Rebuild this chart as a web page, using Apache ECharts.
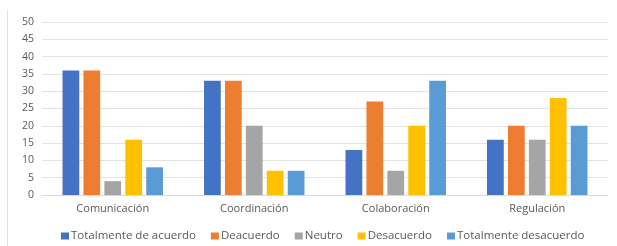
<!DOCTYPE html>
<html><head><meta charset="utf-8">
<script src="https://cdn.jsdelivr.net/npm/echarts@6/dist/echarts.min.js"></script>
<style>html,body{margin:0;padding:0;background:#fff}#c{width:617px;height:246px}</style>
</head><body><div id="c"></div>
<script>
const categories = ['Comunicación', 'Coordinación', 'Colaboración', 'Regulación'];
const seriesNames = ['Totalmente de acuerdo', 'Deacuerdo', 'Neutro', 'Desacuerdo', 'Totalmente desacuerdo'];
const totalmenteAcuerdo = [36, 33, 13, 16];
const deacuerdo = [36, 33, 27, 20];
const neutro = [4, 20, 7, 16];
const desacuerdo = [16, 7, 20, 28];
const totalmenteDesacuerdo = [8, 7, 33, 20];
const yTicks = [0, 5, 10, 15, 20, 25, 30, 35, 40, 45, 50];
const colors = ['#4472C4', '#ED7D31', '#A5A5A5', '#FFC000', '#5B9BD5'];

const values = [totalmenteAcuerdo, deacuerdo, neutro, desacuerdo, totalmenteDesacuerdo];
const chart = echarts.init(document.getElementById('c'));
const font = 'Open Sans';
chart.setOption({
  animation: false,
  color: colors,
  graphic: [{ type: 'line', shape: { x1: 7.5, y1: 10, x2: 7.5, y2: 246 }, style: { stroke: '#E2E2E2', lineWidth: 1 } }],
  grid: { left: 42, right: 9, top: 22, bottom: 51 },
  legend: {
    top: 225, left: 56, itemWidth: 8, itemHeight: 7, itemGap: 15,
    icon: 'rect',
    textStyle: { color: '#595959', fontSize: 11.5, fontFamily: font, padding: [0, 0, 0, -3] },
    data: seriesNames
  },
  xAxis: {
    type: 'category', data: categories,
    axisLine: { lineStyle: { color: '#D9D9D9' } },
    axisTick: { show: false },
    axisLabel: { color: '#595959', fontSize: 11, fontFamily: font, margin: 8 }
  },
  yAxis: {
    type: 'value', min: yTicks[0], max: yTicks[yTicks.length - 1], interval: 5,
    axisLine: { show: false }, axisTick: { show: false },
    splitLine: { lineStyle: { color: '#E3E3E3' } },
    axisLabel: { color: '#595959', fontSize: 10.5, fontFamily: font, margin: 8 }
  },
  series: seriesNames.map((n, i) => ({
    name: n, type: 'bar', data: values[i],
    barGap: '25%', barCategoryGap: '29%'
  }))
});
</script></body></html>
